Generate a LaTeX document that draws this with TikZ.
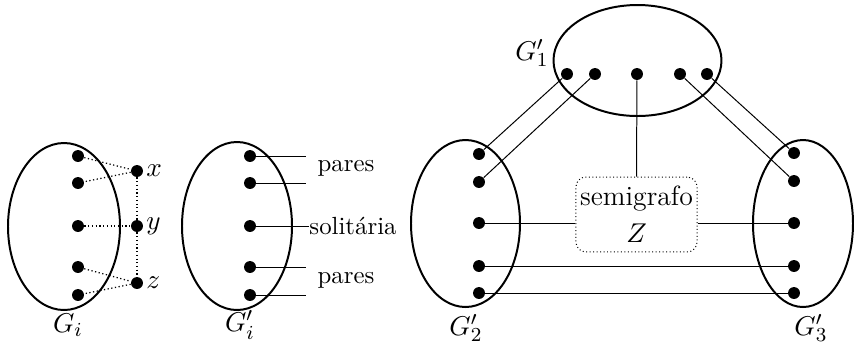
\documentclass[tikz,border=0pt]{standalone}
\usepackage{tikz}
\usetikzlibrary{positioning}

\tikzset{
  vert/.style={circle, fill=black, inner sep=0pt, minimum size=4.8pt},
  conj/.style={line width=0.8pt},
  aresta/.style={line width=0.4pt},
  pont/.style={densely dotted, line width=0.5pt},
  rotulo/.style={inner sep=1pt, font=\fontsize{11}{13}\selectfont},
  nome/.style={font=\fontsize{11}{13}\selectfont}
}

\begin{document}
\begin{tikzpicture}[x=0.403pt, y=-0.403pt]
\useasboundingbox (0,0) rectangle (855,345);

% --- G_i com os vertices x, y, z
\draw[conj] (64,226.5) ellipse [x radius=56, y radius=83.5];
\node[vert] (a1) at (78,156) {};
\node[vert] (a2) at (78,183) {};
\node[vert] (a3) at (78,226) {};
\node[vert] (a4) at (78,267) {};
\node[vert] (a5) at (78,295) {};
\node[vert] (vx) at (137,171) {};
\node[vert] (vy) at (137,226) {};
\node[vert] (vz) at (137,283) {};
\node[rotulo, right=0pt of vx] {$x$};
\node[rotulo, right=0pt of vy] {$y$};
\node[rotulo, right=0pt of vz] {$z$};
\draw[pont] (a1) -- (vx) -- (a2);
\draw[pont] (a3) -- (vy);
\draw[pont] (a4) -- (vz) -- (a5);
\draw[pont] (vx) -- (vy) -- (vz);
\node[nome] (gi) at (68,325) {$G_i$};

% --- G'_i
\draw[conj] (237,226) ellipse [x radius=55, y radius=84];
\node[vert] (b1) at (250,156) {};
\node[vert] (b2) at (250,183) {};
\node[vert] (b3) at (250,226) {};
\node[vert] (b4) at (250,267) {};
\node[vert] (b5) at (250,295) {};
\coordinate (e1) at (306,156);
\coordinate (e2) at (306,183);
\coordinate (e4) at (306,267);
\coordinate (e5) at (306,295);
\draw[aresta] (b1) -- (e1);
\draw[aresta] (b2) -- (e2);
\draw[aresta] (b4) -- (e4);
\draw[aresta] (b5) -- (e5);
\node (par1) at (346,168) {pares};
\node (par2) at (346,280) {pares};
\node[anchor=west, inner sep=0pt] (sol) at (309,226) {solitária};
\draw[aresta] (b3) -- (sol.west);
\node[nome] (gil) at (240,325) {$G'_i$};

% --- G'_1, G'_2, G'_3 e o semigrafo Z
\draw[conj] (637.5,60.5) ellipse [x radius=84, y radius=55.5];
\draw[conj] (465.5,223.5) ellipse [x radius=54.5, y radius=83.5];
\draw[conj] (803,223.5) ellipse [x radius=50, y radius=83.5];

\node[vert] (p1) at (567,74) {};
\node[vert] (p2) at (595,74) {};
\node[vert] (p3) at (637,74) {};
\node[vert] (p4) at (680,74) {};
\node[vert] (p5) at (707,74) {};

\node[vert] (q1) at (479,154) {};
\node[vert] (q2) at (479,182) {};
\node[vert] (q3) at (479,223) {};
\node[vert] (q4) at (479,266) {};
\node[vert] (q5) at (479,293) {};

\node[vert] (r1) at (794,153) {};
\node[vert] (r2) at (794,181) {};
\node[vert] (r3) at (794,223) {};
\node[vert] (r4) at (794,266) {};
\node[vert] (r5) at (794,293) {};

\node[draw, densely dotted, rounded corners=4pt, align=center,
      minimum width=48.8pt, minimum height=30.2pt, inner sep=1pt,
      font=\fontsize{11.2}{15}\selectfont] (semi) at (636.5,214.5)
  {semigrafo\\$Z$};

\draw[aresta] (p1) -- (q1);
\draw[aresta] (p2) -- (q2);
\draw[aresta] (p3) -- (semi.north);
\draw[aresta] (p4) -- (r2);
\draw[aresta] (p5) -- (r1);
\draw[aresta] (q3) -- (q3 -| semi.west);
\draw[aresta] (r3 -| semi.east) -- (r3);
\draw[aresta] (q4) -- (r4);
\draw[aresta] (q5) -- (r5);

\node[nome] (g1) at (532,53) {$G'_1$};
\node[nome] (g2) at (466,328) {$G'_2$};
\node[nome] (g3) at (811,328) {$G'_3$};
\end{tikzpicture}
\end{document}
